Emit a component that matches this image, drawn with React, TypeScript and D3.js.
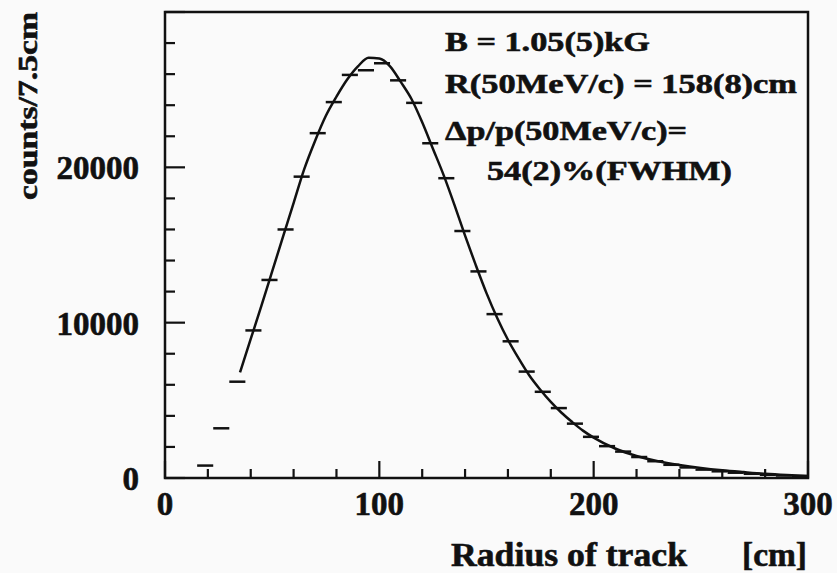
// App.tsx
// track radius histogram with fitted curve, drawn with d3 scales
import * as d3 from 'd3';
import React from 'react';

// histogram bins (7.5cm wide), centres in cm
const binCenters = [18.75, 26.25, 33.75, 41.25, 48.75, 56.25, 63.75, 71.25, 78.75, 86.25,
  93.75, 101.25, 108.75, 116.25, 123.75, 131.25, 138.75, 146.25, 153.75, 161.25,
  168.75, 176.25, 183.75, 191.25, 198.75, 206.25, 213.75, 221.25, 228.75, 236.25,
  243.75, 251.25, 258.75, 266.25, 273.75, 281.25, 288.75, 296.25];
const counts = [800, 3200, 6200, 9500, 12750, 16000, 19400, 22200, 24200, 25950,
  26250, 26700, 25600, 24150, 21550, 19300, 15900, 13300, 10550, 8800,
  6850, 5550, 4500, 3500, 2650, 2050, 1700, 1350, 1080, 850,
  680, 540, 430, 340, 270, 210, 160, 120];
const binWidth = 7.5;

// fit curve
const fitX = [35, 40, 45, 50, 55, 60, 65, 70, 75, 80, 85, 90, 95, 100, 105, 110, 115, 120,
  125, 130, 135, 140, 145, 150, 155, 160, 165, 170, 175, 180, 185, 190, 195, 200,
  210, 220, 230, 240, 250, 260, 270, 280, 290, 300];
const fitY = [6800, 8950, 11100, 13300, 15500, 17700, 19900, 21700, 23300, 24550, 25650, 26500, 27050, 27000, 26500, 25500, 24400, 22900,
  21200, 19500, 17600, 15600, 13700, 11900, 10300, 8900, 7700, 6600, 5700, 4900, 4200, 3600, 3050, 2600,
  1900, 1420, 1080, 840, 650, 500, 380, 270, 190, 130];

const xTickLabels = [0, 100, 200, 300];
const yTickLabels = [0, 10000, 20000];
const legendLines = ['B = 1.05(5)kG', 'R(50MeV/c) = 158(8)cm', '\u0394p/p(50MeV/c)=', '54(2)%(FWHM)'];

const W = 837, H = 573;
const left = 165, right = 808, top = 12, bottom = 478;
const ink = '#111';
const font = '"Liberation Serif", "DejaVu Serif", serif';

export default function App() {
  const x = d3.scaleLinear().domain([0, 300]).range([left, right]);
  const y = d3.scaleLinear().domain([0, 30000]).range([bottom, top]);

  const line = d3.line<number>()
    .x((d, i) => x(fitX[i]))
    .y(d => y(d))
    .curve(d3.curveMonotoneX);

  const xMinor = d3.range(0, 301, 20);
  const yMinor = d3.range(0, 30001, 2000);

  // legend: [x, baseline, width]
  const legendPos = [[445, 51, 205], [445, 93, 352], [445, 140, 242], [487, 180, 245]];

  // scanned text looks heavier than plain bold
  const txt = { fontFamily: font, fontWeight: 'bold' as const, fill: ink, stroke: ink, strokeWidth: 0.6 };

  return (
    <svg width={W} height={H} style={{ position: 'absolute', left: 0, top: 0, background: '#fafafa' }}>
      {/* frame */}
      <rect x={left} y={top} width={right - left} height={bottom - top} fill="none" stroke={ink} strokeWidth={2.5} />

      {/* x ticks */}
      {xMinor.map(v => (
        <line key={'xt' + v} x1={x(v)} x2={x(v)} y1={bottom} y2={bottom - (v % 100 === 0 ? 17 : 9)} stroke={ink} strokeWidth={2.2} />
      ))}
      {/* y ticks */}
      {yMinor.map(v => (
        <line key={'yt' + v} x1={left} x2={left + (v % 10000 === 0 ? 20 : 10)} y1={y(v)} y2={y(v)} stroke={ink} strokeWidth={2.2} />
      ))}

      {/* tick labels */}
      {xTickLabels.map(v => (
        <text key={'xl' + v} x={x(v)} y={515} textAnchor="middle" fontSize={33} {...txt}>{v}</text>
      ))}
      {yTickLabels.map(v => (
        <text key={'yl' + v} x={139} y={y(v) + 12} textAnchor="end" fontSize={33} {...txt}>{v}</text>
      ))}

      {/* axis titles */}
      <text transform="translate(37,106) rotate(-90)" textAnchor="middle" fontSize={28}
        textLength={188} lengthAdjust="spacingAndGlyphs" {...txt}>counts/7.5cm</text>
      <text x={451} y={566} fontSize={34} textLength={236} lengthAdjust="spacingAndGlyphs" {...txt}>Radius of track</text>
      <text x={742} y={566} fontSize={34} textLength={65} lengthAdjust="spacingAndGlyphs" {...txt}>[cm]</text>

      {/* histogram points */}
      {counts.map((c, i) => (
        <line key={'b' + i} x1={x(binCenters[i] - binWidth / 2)} x2={x(binCenters[i] + binWidth / 2)}
          y1={y(c)} y2={y(c)} stroke={ink} strokeWidth={2.5} />
      ))}

      {/* fit */}
      <path d={line(fitY) || ''} fill="none" stroke={ink} strokeWidth={2.5} />

      {/* legend */}
      {legendLines.map((t, i) => (
        <text key={'lg' + i} x={legendPos[i][0]} y={legendPos[i][1]} fontSize={28}
          textLength={legendPos[i][2]} lengthAdjust="spacingAndGlyphs" {...txt}>{t}</text>
      ))}
    </svg>
  );
}
